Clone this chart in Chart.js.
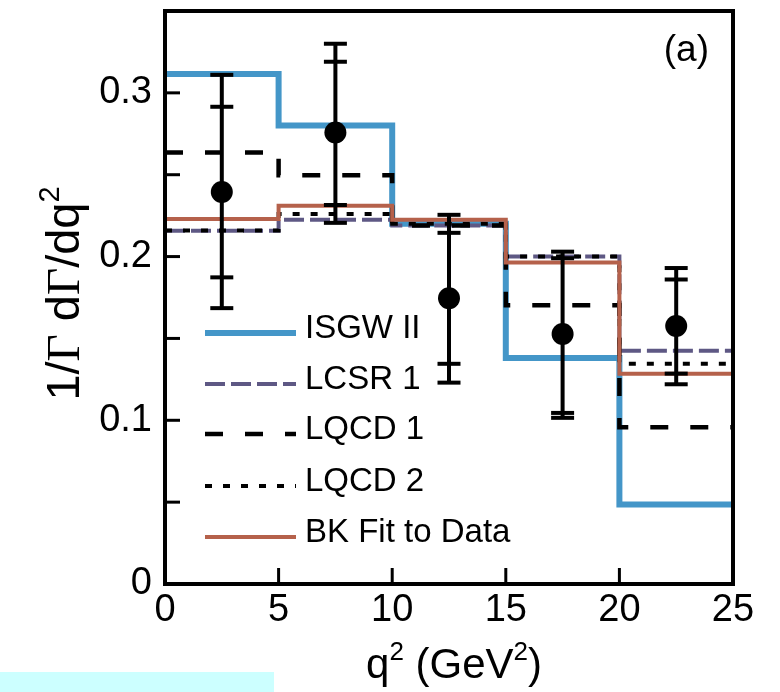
<!DOCTYPE html>
<html><head><meta charset="utf-8">
<script src="https://cdn.jsdelivr.net/npm/chart.js@4.4.1/dist/chart.umd.min.js"></script>
<style>html,body{margin:0;padding:0;background:#fff;} #wrap{width:780px;height:692px;position:relative;}</style>
</head><body><div id="wrap"><canvas id="c" width="780" height="692"></canvas></div>
<script>
// ---- data ----
const binEdges = [0, 5, 10, 15, 20, 25];
const isgw2 = [0.3115, 0.280, 0.220, 0.138, 0.0485];
const lcsr1 = [0.2158, 0.2225, 0.219, 0.200, 0.1424];
const lqcd1 = [0.2636, 0.2497, 0.219, 0.1703, 0.0958];
const lqcd2 = [0.216, 0.226, 0.220, 0.200, 0.1345];
const bkFit = [0.223, 0.231, 0.2225, 0.1964, 0.1285];
const dataX = [2.5, 7.5, 12.5, 17.5, 22.5];
const dataY = [0.2394, 0.2758, 0.1745, 0.1527, 0.1576];
const statLo = [0.1873, 0.2315, 0.1345, 0.1045, 0.1285];
const statHi = [0.2915, 0.319, 0.2145, 0.199, 0.186];
const totLo = [0.1685, 0.2206, 0.123, 0.1015, 0.122];
const totHi = [0.311, 0.330, 0.2255, 0.203, 0.193];
const yTickLabels = ['0', '0.1', '0.2', '0.3'];
const seriesLabels = ['ISGW II', 'LCSR 1', 'LQCD 1', 'LQCD 2', 'BK Fit to Data'];

const SANS = '"Liberation Sans", Arial, Helvetica, sans-serif';
const SERIF = '"Liberation Serif", "Times New Roman", serif';

function steps(vals) {
  return binEdges.map((x, i) => ({ x: x, y: vals[Math.min(i, vals.length - 1)] }));
}
function lineDs(label, vals, color, width, dash, order) {
  return {
    type: 'line', label: label, data: steps(vals), borderColor: color, backgroundColor: color,
    borderWidth: width, borderDash: dash, stepped: true, pointRadius: 0, fill: false,
    tension: 0, borderCapStyle: 'butt', order: order
  };
}

const datasets = [
  lineDs(seriesLabels[0], isgw2, '#4496c8', 6, [], 6),
  lineDs(seriesLabels[1], lcsr1, '#5e5884', 4, [20, 6], 5),
  lineDs(seriesLabels[2], lqcd1, '#000000', 4.5, [18, 22], 4),
  lineDs(seriesLabels[3], lqcd2, '#000000', 4, [7, 11], 3),
  lineDs(seriesLabels[4], bkFit, '#b5614b', 4, [], 2),
  {
    type: 'scatter', label: 'Data', data: dataX.map((x, i) => ({ x: x, y: dataY[i] })),
    pointRadius: 11, pointBackgroundColor: '#000', pointBorderWidth: 0, showLine: false, order: 1
  }
];

function drawPieces(ctx, pieces, size, supSize) {
  let total = 0;
  pieces.forEach(p => {
    ctx.font = (p.sup ? supSize : size) + 'px ' + (p.serif ? SERIF : SANS);
    p.w = ctx.measureText(p.t).width; total += p.w;
  });
  let x = -total / 2;
  pieces.forEach(p => {
    ctx.font = (p.sup ? supSize : size) + 'px ' + (p.serif ? SERIF : SANS);
    ctx.fillText(p.t, x, p.sup ? -size * 0.42 : 0);
    x += p.w;
  });
}

const decor = {
  id: 'decor',
  beforeDraw(chart) {
    const ctx = chart.ctx;
    ctx.save();
    ctx.fillStyle = '#fff';
    ctx.fillRect(0, 0, chart.width, chart.height);
    ctx.fillStyle = '#ccffff';
    ctx.fillRect(0, 672, 274, 20);
    ctx.restore();
  },
  afterDatasetsDraw(chart) {
    const ctx = chart.ctx, xs = chart.scales.x, ys = chart.scales.y, a = chart.chartArea;
    ctx.save();
    // error bars
    ctx.strokeStyle = '#000';
    for (let i = 0; i < dataX.length; i++) {
      const px = xs.getPixelForValue(dataX[i]);
      ctx.lineWidth = 4;
      ctx.beginPath();
      ctx.moveTo(px, ys.getPixelForValue(totHi[i]));
      ctx.lineTo(px, ys.getPixelForValue(totLo[i]));
      ctx.stroke();
      [statLo[i], statHi[i], totLo[i], totHi[i]].forEach(v => {
        const py = ys.getPixelForValue(v);
        ctx.beginPath(); ctx.moveTo(px - 11.5, py); ctx.lineTo(px + 11.5, py); ctx.stroke();
      });
    }
    // frame
    ctx.lineWidth = 4;
    ctx.strokeRect(a.left, a.top, a.right - a.left, a.bottom - a.top);
    // inward ticks
    ctx.lineWidth = 3;
    ys.ticks.forEach(t => {
      if (t.value <= 0 || t.value >= ys.max - 1e-9) return;
      const py = ys.getPixelForValue(t.value);
      ctx.beginPath(); ctx.moveTo(a.left, py); ctx.lineTo(a.left + 15, py); ctx.stroke();
    });
    xs.ticks.forEach(t => {
      if (t.value <= 0 || t.value >= xs.max) return;
      const px = xs.getPixelForValue(t.value);
      ctx.beginPath(); ctx.moveTo(px, a.bottom); ctx.lineTo(px, a.bottom - 16); ctx.stroke();
    });
    // legend
    const rowY = [333, 384, 434, 486, 537];
    for (let i = 0; i < 5; i++) {
      const ds = chart.data.datasets[i];
      ctx.strokeStyle = ds.borderColor;
      ctx.lineWidth = ds.borderWidth;
      ctx.setLineDash(ds.borderDash);
      ctx.lineCap = 'butt';
      ctx.beginPath(); ctx.moveTo(205, rowY[i]); ctx.lineTo(296, rowY[i]); ctx.stroke();
      ctx.setLineDash([]);
      ctx.fillStyle = '#000';
      ctx.font = '33px ' + SANS;
      ctx.textAlign = 'left'; ctx.textBaseline = 'middle';
      ctx.fillText(ds.label, 305, rowY[i] - 4);
    }
    // panel tag
    ctx.fillStyle = '#000';
    ctx.font = '37px ' + SANS;
    ctx.textAlign = 'right'; ctx.textBaseline = 'alphabetic';
    ctx.fillText('(a)', 709, 61);
    // x title
    ctx.textAlign = 'left';
    ctx.save();
    ctx.translate((a.left + a.right) / 2 + 5, 678);
    drawPieces(ctx, [{ t: 'q' }, { t: '2', sup: true }, { t: ' (GeV' }, { t: '2', sup: true }, { t: ')' }], 42, 26);
    ctx.restore();
    // y title
    ctx.save();
    ctx.translate(79, (a.top + a.bottom) / 2 - 4);
    ctx.rotate(-Math.PI / 2);
    drawPieces(ctx, [{ t: '1/' }, { t: 'Γ', serif: true }, { t: ' d' }, { t: 'Γ', serif: true }, { t: '/dq' }, { t: '2', sup: true }], 47, 29);
    ctx.restore();
    ctx.restore();
  }
};

new Chart(document.getElementById('c'), {
  type: 'line',
  data: { datasets: datasets },
  options: {
    responsive: false, animation: false, events: [],
    layout: { padding: { top: 7, right: 47, left: 0, bottom: 0 } },
    plugins: { legend: { display: false }, tooltip: { enabled: false } },
    scales: {
      x: {
        type: 'linear', min: 0, max: 25,
        grid: { display: false, drawTicks: false }, border: { display: false },
        ticks: { stepSize: 5, color: '#000', font: { family: SANS, size: 38 }, padding: 4, maxRotation: 0 },
        afterFit(s) { s.height = 108; s.paddingLeft = 0; s.paddingRight = 0; }
      },
      y: {
        type: 'linear', min: 0, max: 0.35,
        grid: { display: false, drawTicks: false }, border: { display: false },
        ticks: {
          stepSize: 0.05, color: '#000', font: { family: SANS, size: 38 }, padding: 13,
          callback(v) {
            const k = Math.round(v * 10);
            return (Math.abs(v * 10 - k) < 1e-6 && k < yTickLabels.length) ? yTickLabels[k] : '';
          }
        },
        afterFit(s) { s.width = 165; s.paddingTop = 0; s.paddingBottom = 0; }
      }
    }
  },
  plugins: [decor]
});
</script></body></html>
